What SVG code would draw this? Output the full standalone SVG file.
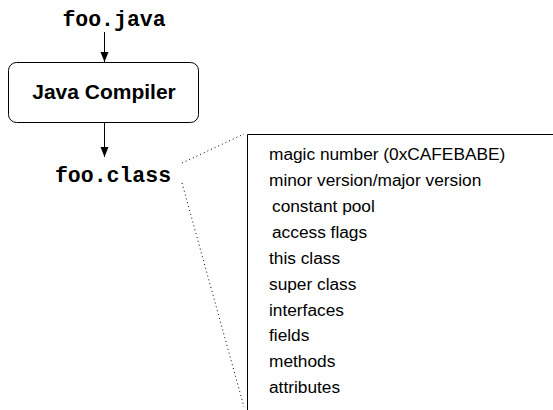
<svg xmlns="http://www.w3.org/2000/svg" width="553" height="410" viewBox="0 0 553 410">
<style>
.mono{font-family:"Liberation Mono","Courier New",monospace;font-weight:bold;font-size:21.5px;fill:#000}
.sans{font-family:"Liberation Sans",Arial,sans-serif;font-size:17.3px;fill:#000}
.edge{stroke:#000;stroke-width:1;fill:none}
.dot{stroke:#000;stroke-width:1;fill:none;stroke-dasharray:1 3}
</style>
<defs>
<marker id="ah" viewBox="0 0 10 10" refX="10" refY="5" markerWidth="10" markerHeight="10" markerUnits="userSpaceOnUse" orient="auto">
<path d="M0,1 L10,5 L0,9 Z" fill="#000"/>
</marker>
</defs>
<rect width="553" height="410" fill="#fff"/>
<g id="foo_java"><text class="mono" x="114" y="26" text-anchor="middle">foo.java</text></g>
<g id="compiler">
<rect x="8.5" y="62.5" width="190" height="60" rx="8" ry="8" fill="#fff" stroke="#000" stroke-width="1"/>
<text x="104" y="99" text-anchor="middle" style="font-family:'Liberation Sans',Arial,sans-serif;font-weight:bold;font-size:21px">Java Compiler</text>
</g>
<g id="foo_class"><text class="mono" x="113" y="182" text-anchor="middle">foo.class</text></g>
<g id="classfile">
<path class="edge" d="M247.5,410 L247.5,134.5 L553,134.5"/>
<text class="sans" x="269" y="160">magic number (0xCAFEBABE)</text>
<text class="sans" x="269" y="186">minor version/major version</text>
<text class="sans" x="272" y="212">constant pool</text>
<text class="sans" x="272" y="238">access flags</text>
<text class="sans" x="269" y="264">this class</text>
<text class="sans" x="269" y="289.5">super class</text>
<text class="sans" x="269" y="315.5">interfaces</text>
<text class="sans" x="269" y="341">fields</text>
<text class="sans" x="269" y="367">methods</text>
<text class="sans" x="269" y="393">attributes</text>
</g>
<g id="connectors">
<line class="edge" x1="104.5" y1="32" x2="104.5" y2="62" marker-end="url(#ah)"/>
<line class="edge" x1="104.5" y1="123" x2="104.5" y2="157" marker-end="url(#ah)"/>
<line class="dot" x1="182" y1="163" x2="244" y2="134"/>
<line class="dot" x1="182" y1="183" x2="244" y2="407"/>
</g>
</svg>
